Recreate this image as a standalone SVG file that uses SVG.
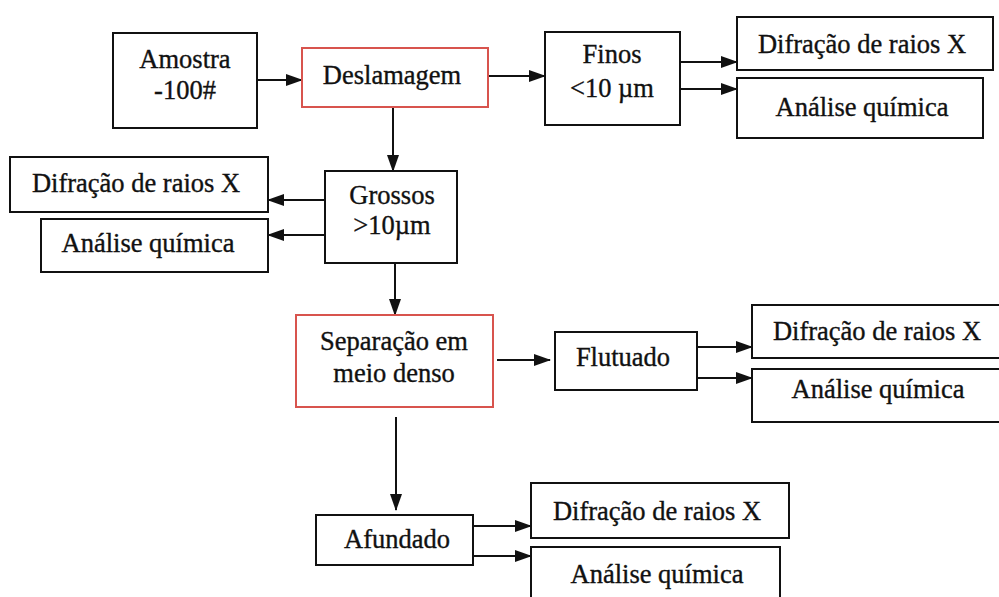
<svg xmlns="http://www.w3.org/2000/svg" width="999" height="597" viewBox="0 0 999 597">
<style>
.box{fill:#fff;stroke:#111;stroke-width:2}
.red{fill:#fff;stroke:#d8544e;stroke-width:2}
.t{font-family:"Liberation Serif","Times New Roman",serif;font-size:26.5px;fill:#111;stroke:#111;stroke-width:0.35;text-anchor:middle}
.c{stroke:#111;stroke-width:2;fill:none;marker-end:url(#ah)}
</style>
<defs>
<marker id="ah" markerWidth="17" markerHeight="12" refX="16" refY="6" orient="auto" markerUnits="userSpaceOnUse">
<path d="M0,0 L17,6 L0,12 Z" fill="#111"/>
</marker>
</defs>
<rect width="999" height="597" fill="#fff"/>
<g id="connectors">
<line class="c" x1="257" y1="80" x2="302" y2="80"/>
<line class="c" x1="488" y1="76" x2="545" y2="76"/>
<line class="c" x1="680" y1="62" x2="737" y2="62"/>
<line class="c" x1="680" y1="89" x2="737" y2="89"/>
<line class="c" x1="393" y1="107" x2="393" y2="171"/>
<line class="c" x1="325" y1="200" x2="268" y2="200"/>
<line class="c" x1="325" y1="235" x2="268" y2="235"/>
<line class="c" x1="395" y1="263" x2="395" y2="315"/>
<line class="c" x1="497" y1="360" x2="550" y2="360"/>
<line class="c" x1="697" y1="347" x2="752" y2="347"/>
<line class="c" x1="697" y1="378" x2="752" y2="378"/>
<line class="c" x1="396" y1="417" x2="396" y2="510"/>
<line class="c" x1="473" y1="526" x2="531" y2="526"/>
<line class="c" x1="473" y1="556" x2="531" y2="556"/>
</g>
<g id="amostra"><rect class="box" x="113" y="33" width="144" height="95"/><text class="t" x="185" y="68">Amostra</text><text class="t" x="185" y="99">-100#</text></g>
<g id="deslamagem"><rect class="red" x="302" y="48" width="186" height="59"/><text class="t" x="392" y="84">Deslamagem</text></g>
<g id="finos"><rect class="box" x="545" y="32" width="135" height="93"/><text class="t" x="612" y="63">Finos</text><text class="t" x="612" y="97">&lt;10 µm</text></g>
<g id="drx1"><rect class="box" x="737" y="17" width="256" height="53"/><text class="t" x="862" y="53">Difração de raios X</text></g>
<g id="aq1"><rect class="box" x="737" y="78" width="246" height="60"/><text class="t" x="862" y="116">Análise química</text></g>
<g id="grossos"><rect class="box" x="325" y="171" width="132" height="92"/><text class="t" x="392" y="204">Grossos</text><text class="t" x="392" y="234">&gt;10µm</text></g>
<g id="drx2"><rect class="box" x="10" y="157" width="258" height="55"/><text class="t" x="136" y="192">Difração de raios X</text></g>
<g id="aq2"><rect class="box" x="41" y="219" width="227" height="53"/><text class="t" x="148" y="252">Análise química</text></g>
<g id="separacao"><rect class="red" x="296" y="315" width="197" height="92"/><text class="t" x="394" y="350">Separação em</text><text class="t" x="394" y="382">meio denso</text></g>
<g id="flutuado"><rect class="box" x="555" y="332" width="142" height="58"/><text class="t" x="623" y="366">Flutuado</text></g>
<g id="drx3"><rect class="box" x="752" y="305" width="260" height="53"/><text class="t" x="877" y="340">Difração de raios X</text></g>
<g id="aq3"><rect class="box" x="752" y="369" width="260" height="53"/><text class="t" x="878" y="398">Análise química</text></g>
<g id="afundado"><rect class="box" x="316" y="515" width="157" height="50"/><text class="t" x="397" y="548">Afundado</text></g>
<g id="drx4"><rect class="box" x="531" y="483" width="258" height="55"/><text class="t" x="657" y="520">Difração de raios X</text></g>
<g id="aq4"><rect class="box" x="531" y="547" width="249" height="60"/><text class="t" x="657" y="583">Análise química</text></g>
</svg>
